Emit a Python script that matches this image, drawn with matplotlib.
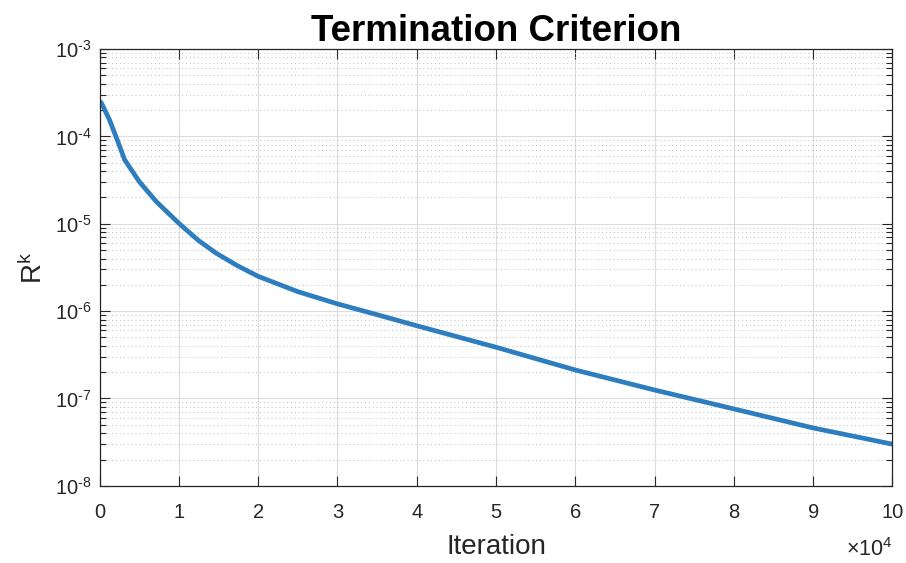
import numpy as np
import matplotlib
matplotlib.use("Agg")
import matplotlib.pyplot as plt
from matplotlib.ticker import LogLocator, FuncFormatter, MultipleLocator, NullFormatter

plt.rcParams['font.family'] = ['Liberation Sans', 'DejaVu Sans']
plt.rcParams['mathtext.fontset'] = 'custom'
plt.rcParams['mathtext.rm'] = 'Liberation Sans'
plt.rcParams['mathtext.it'] = 'Liberation Sans'

# values (iteration, residual)
iters = [0, 200, 1250, 2300, 3150, 5000, 7150, 10000, 12400, 14700, 17400,
         20000, 25000, 30000, 35000, 40000, 50000, 60000, 70000, 80000,
         90000, 100000]
resid = [2.5e-4, 2.43e-4, 1.54e-4, 8.7e-5, 5.4e-5, 3.03e-5, 1.79e-5, 1.01e-5,
         6.5e-6, 4.6e-6, 3.3e-6, 2.5e-6, 1.67e-6, 1.21e-6, 9.1e-7, 6.8e-7,
         3.86e-7, 2.12e-7, 1.25e-7, 7.6e-8, 4.6e-8, 3.0e-8]

fig = plt.figure(figsize=(9.06, 5.63), dpi=100)
ax = fig.add_axes([0.110, 0.137, 0.875, 0.776])

ax.semilogy(iters, resid, color='#2E7EBF', lw=3.4, solid_joinstyle='round')

ax.set_xlim(0, 100000)
ax.set_ylim(1e-8, 1e-3)
ax.xaxis.set_major_locator(MultipleLocator(10000))
ax.xaxis.set_major_formatter(FuncFormatter(lambda v, p: '%d' % round(v / 1e4)))
ax.yaxis.set_major_locator(LogLocator(base=10, numticks=10))
ax.yaxis.set_major_formatter(FuncFormatter(
    lambda v, p: r'$\mathregular{10^{\text{%d}}}$' % round(np.log10(v))))
ax.yaxis.set_minor_locator(LogLocator(base=10, subs=np.arange(2, 10), numticks=20))
ax.yaxis.set_minor_formatter(NullFormatter())

ax.grid(True, which='major', color='#DCDCDC', lw=0.8, ls='-')
ax.grid(True, which='minor', axis='y', color='#BDBDBD', lw=0.7, ls=(0, (1, 3)))
ax.set_axisbelow(True)

ax.tick_params(which='both', direction='in', top=True, right=True,
               colors='#262626', labelsize=14.5, width=0.8)
ax.tick_params(which='major', length=7)
ax.tick_params(which='minor', length=4)
ax.tick_params(axis='x', pad=12)
ax.tick_params(axis='y', pad=6)
for s in ax.spines.values():
    s.set_color('#262626')
    s.set_linewidth(0.9)

ax.set_title('Termination Criterion', fontsize=26.5, fontweight='bold', pad=6)
ax.set_xlabel('Iteration', fontsize=20, color='#262626', labelpad=9)
ax.set_ylabel(r'$\mathregular{R^k}$', fontsize=20, color='#262626', labelpad=5)
ax.text(1.0, -0.145, '\u00d7' + r'$\mathregular{10^4}$', transform=ax.transAxes,
        ha='right', va='center', fontsize=15.5, color='#262626')

fig.savefig('out.png', dpi=100)
